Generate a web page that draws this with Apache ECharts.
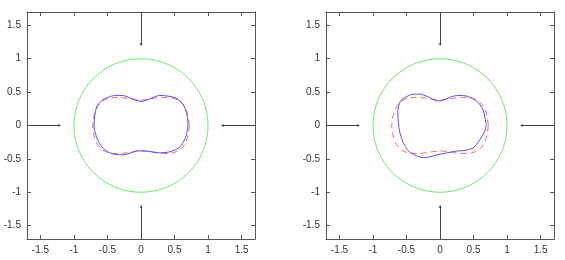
<!DOCTYPE html>
<html>
<head>
<meta charset="utf-8">
<script src="https://cdn.jsdelivr.net/npm/echarts@6/dist/echarts.min.js"></script>
<style>
  html, body { margin: 0; padding: 0; background: #fff; }
  #main { width: 565px; height: 260px; }
</style>
</head>
<body>
<div id="main"></div>
<script>
// axis range of both panels
var axisMin = -1.7;
var axisMax = 1.7;

// green reference circle: [cx, cy, r]
var circle = [[0, 0, 1]];

// arrows: start and end points
var arrowFrom = [[0, 1.7], [-1.7, 0], [1.7, 0], [0, -1.7]];
var arrowTo = [[0, 1.2], [-1.2, 0], [1.2, 0], [0, -1.2]];

// red dashed target shape (same in both panels)
var targetX = [0.72, 0.70, 0.65, 0.57, 0.47, 0.35, 0.22, 0.10, 0.00, -0.10, -0.22, -0.35, -0.47, -0.57, -0.65, -0.70, -0.72,
  -0.70, -0.65, -0.57, -0.47, -0.35, -0.22, -0.10, 0.00, 0.10, 0.22, 0.35, 0.47, 0.57, 0.65, 0.70, 0.72];
var targetY = [0.00, 0.15, 0.28, 0.37, 0.41, 0.42, 0.41, 0.39, 0.38, 0.39, 0.41, 0.42, 0.41, 0.37, 0.28, 0.15, 0.00,
  -0.15, -0.28, -0.37, -0.41, -0.42, -0.41, -0.39, -0.38, -0.39, -0.41, -0.42, -0.41, -0.37, -0.28, -0.15, 0.00];

// blue solid curve, left panel
var leftX = [0.70, 0.69, 0.64, 0.58, 0.50, 0.40, 0.28, 0.18, 0.08, 0.00, -0.08, -0.18, -0.28, -0.38, -0.50, -0.59, -0.66, -0.69, -0.70,
  -0.67, -0.60, -0.50, -0.40, -0.27, -0.15, -0.05, 0.05, 0.15, 0.28, 0.40, 0.50, 0.60, 0.67, 0.70];
var leftY = [0.00, 0.14, 0.29, 0.37, 0.42, 0.44, 0.45, 0.42, 0.38, 0.36, 0.38, 0.42, 0.45, 0.45, 0.42, 0.37, 0.28, 0.14, 0.00,
  -0.15, -0.30, -0.39, -0.43, -0.44, -0.41, -0.38, -0.38, -0.39, -0.41, -0.40, -0.37, -0.30, -0.16, 0.00];

// blue solid curve, right panel
var rightX = [0.69, 0.67, 0.64, 0.57, 0.49, 0.40, 0.30, 0.20, 0.10, 0.00, -0.08, -0.18, -0.30, -0.40, -0.50, -0.58, -0.62, -0.63, -0.62,
  -0.60, -0.55, -0.48, -0.38, -0.25, -0.15, -0.05, 0.05, 0.15, 0.27, 0.40, 0.50, 0.59, 0.66, 0.69];
var rightY = [0.00, 0.12, 0.24, 0.34, 0.40, 0.44, 0.45, 0.44, 0.40, 0.37, 0.38, 0.43, 0.47, 0.47, 0.43, 0.38, 0.28, 0.17, 0.04,
  -0.10, -0.25, -0.37, -0.44, -0.48, -0.47, -0.44, -0.42, -0.40, -0.38, -0.37, -0.33, -0.22, -0.10, 0.00];

function pairs(xs, ys) {
  return xs.map(function (x, i) { return [x, ys[i]]; });
}

var chart = echarts.init(document.getElementById('main'), null, { renderer: 'canvas' });

var axisColor = '#555';
var labelStyle = { color: '#333', fontSize: 10, fontFamily: 'Liberation Sans' };

function makeAxis(grid, position, showLabel) {
  return {
    type: 'value',
    gridIndex: grid,
    position: position,
    min: axisMin,
    max: axisMax,
    splitNumber: 6,
    axisLine: { show: true, onZero: false, lineStyle: { color: axisColor, width: 1 } },
    axisTick: { show: true, inside: true, length: 4, lineStyle: { color: axisColor } },
    axisLabel: Object.assign({ show: showLabel, showMinLabel: false, showMaxLabel: false, margin: 6 }, labelStyle),
    splitLine: { show: false }
  };
}

var grids = [
  { left: 27, top: 12, width: 228, height: 227 },
  { left: 326, top: 12, width: 228, height: 227 }
];

var xAxes = [], yAxes = [];
for (var g = 0; g < 2; g++) {
  xAxes.push(makeAxis(g, 'bottom', true));
  xAxes.push(makeAxis(g, 'top', false));
  yAxes.push(makeAxis(g, 'left', true));
  yAxes.push(makeAxis(g, 'right', false));
}

var arrows = arrowFrom.map(function (p, i) { return { coords: [p, arrowTo[i]] }; });
var blueCurves = [pairs(leftX, leftY), pairs(rightX, rightY)];

var series = [];
for (var k = 0; k < 2; k++) {
  series.push({
    type: 'custom',
    xAxisIndex: k * 2,
    yAxisIndex: k * 2,
    data: circle,
    renderItem: function (params, api) {
      var c = api.coord([api.value(0), api.value(1)]);
      var s = api.size([api.value(2), api.value(2)]);
      return {
        type: 'ellipse',
        shape: { cx: c[0], cy: c[1], rx: s[0], ry: s[1] },
        style: { fill: 'none', stroke: '#6cea6c', lineWidth: 1 }
      };
    }
  });
  series.push({
    type: 'line',
    xAxisIndex: k * 2,
    yAxisIndex: k * 2,
    data: pairs(targetX, targetY),
    showSymbol: false,
    smooth: 0.3,
    lineStyle: { color: '#ff6464', width: 1, type: [6, 4] }
  });
  series.push({
    type: 'line',
    xAxisIndex: k * 2,
    yAxisIndex: k * 2,
    data: blueCurves[k],
    showSymbol: false,
    smooth: 0.3,
    lineStyle: { color: '#5050ff', width: 1 }
  });
  series.push({
    type: 'lines',
    coordinateSystem: 'cartesian2d',
    xAxisIndex: k * 2,
    yAxisIndex: k * 2,
    data: arrows,
    symbol: ['none', 'arrow'],
    symbolSize: 2.5,
    lineStyle: { color: '#444', width: 1, opacity: 1 }
  });
}

chart.setOption({
  animation: false,
  backgroundColor: '#fff',
  grid: grids,
  xAxis: xAxes,
  yAxis: yAxes,
  series: series
});
</script>
</body>
</html>
